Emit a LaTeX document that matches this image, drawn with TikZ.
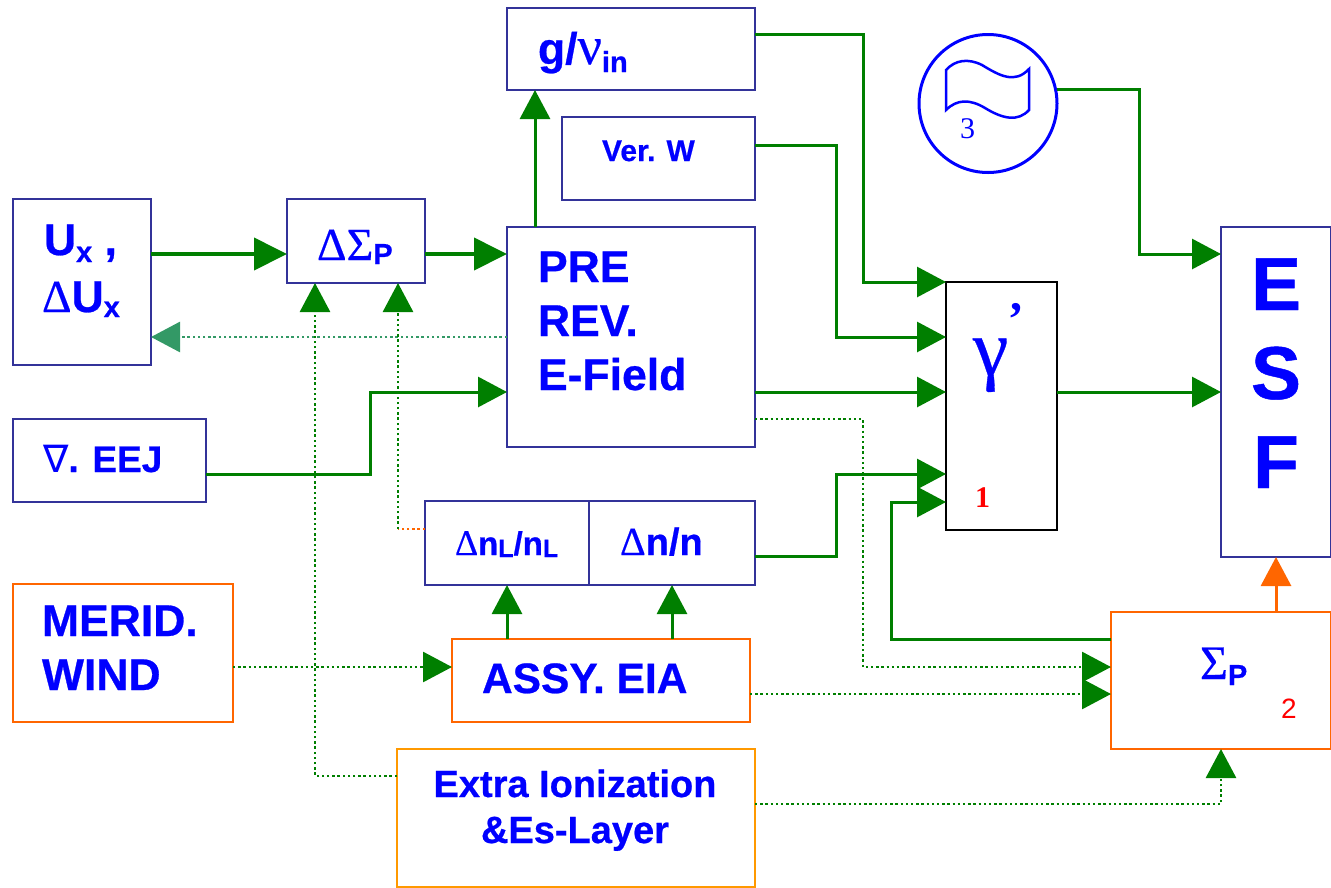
\documentclass[tikz,border=0pt]{standalone}
\usepackage{fontspec}
\setmainfont{Liberation Sans}[BoldFeatures={FakeBold=0.6}]
\newfontfamily\serifGreek{Liberation Serif}
\newfontfamily\heavyGreek{Liberation Serif}[FakeBold=0.4]
\newfontfamily\dejaGreek{DejaVu Sans}
\usetikzlibrary{arrows.meta}

\newcommand{\gk}[2][46]{{\heavyGreek\mdseries\fontsize{#1}{#1}\selectfont #2}}
\newcommand{\subTxt}[2]{\raisebox{-#1pt}{\fontsize{29}{29}\selectfont #2}}

\tikzset{
    blockBox/.style={draw=borderColour, line width=2.8pt, rectangle, inner sep=0pt, outer sep=0pt},
    orangeBox/.style={blockBox, draw=orangeColour},
    goldBox/.style={blockBox, draw=goldColour},
    gammaBox/.style={blockBox, draw=black},
    blockText/.style={anchor=base west, inner sep=0pt, outer sep=0pt, text=textColour, font=\bfseries\fontsize{44.5}{54}\selectfont, align=left},
    smallNum/.style={anchor=base west, inner sep=0pt, outer sep=0pt},
    flowBig/.style={draw=flowColour, line width=4pt, -{Triangle[length=33pt,width=32pt]}},
    flow/.style={draw=flowColour, line width=3pt, -{Triangle[length=29pt,width=30pt]}},
    dotFlow/.style={draw=flowColour, line width=2.8pt, dash pattern=on 2.4pt off 2.8pt, -{Triangle[length=29pt,width=30pt]}},
    dotPlain/.style={draw=flowColour, line width=2.8pt, dash pattern=on 2.4pt off 2.8pt}
}

\begin{document}
\begin{tikzpicture}[x=1pt, y=-1pt]
    \definecolor{borderColour}{HTML}{333399}
    \definecolor{orangeColour}{HTML}{FF6600}
    \definecolor{goldColour}{HTML}{FF9900}
    \definecolor{flowColour}{HTML}{007F00}
    \definecolor{backColour}{HTML}{339966}
    \definecolor{textColour}{HTML}{0000FF}

    \useasboundingbox (0,0) rectangle (1331,887);

    % Draw blocks
    \node[blockBox, minimum width=248, minimum height=82] (gvBox) at (631,49) {};
    \node[blockBox, minimum width=193, minimum height=83] (verBox) at (658.5,158.5) {};
    \node[blockBox, minimum width=248, minimum height=220] (preBox) at (631,337) {};
    \node[blockBox, minimum width=138, minimum height=166] (uxBox) at (82,282) {};
    \node[blockBox, minimum width=138, minimum height=84] (dsigBox) at (356,241) {};
    \node[blockBox, minimum width=193, minimum height=83] (eejBox) at (109.5,460.5) {};
    \node[blockBox, minimum width=164, minimum height=84] (nlBox) at (507,543) {};
    \node[blockBox, minimum width=166, minimum height=84] (nBox) at (672,543) {};
    \node[orangeBox, minimum width=220, minimum height=138] (windBox) at (123,653) {};
    \node[orangeBox, minimum width=298, minimum height=83] (eiaBox) at (601,680.5) {};
    \node[goldBox, minimum width=358, minimum height=138] (extraBox) at (576,818) {};
    \node[gammaBox, minimum width=111, minimum height=248] (gammaB) at (1001.5,406) {};
    \node[blockBox, minimum width=110, minimum height=330] (esfBox) at (1276,392) {};
    \node[orangeBox, minimum width=220, minimum height=137] (sigBox) at (1221,680.5) {};
    \node[circle, draw=textColour, line width=3pt, minimum size=138, inner sep=0pt, outer sep=0pt] (flagCirc) at (988,103.5) {};

    % Flag inside the circle
    \draw[textColour, line width=2.5pt] (946,70) .. controls (955,60) and (968,58) .. (982,65)
        .. controls (1000,76) and (1015,84) .. (1029,69) -- (1029,110)
        .. controls (1018,122) and (1003,119) .. (985,108)
        .. controls (970,99) and (957,99) .. (946,110) -- cycle;

    % Block texts
    \node[blockText] (gvText) at (538,64) {g/\gk[54]{ν}\subTxt{8}{in}};
    \node[blockText, font=\bfseries\fontsize{30}{36}\selectfont] (verText) at (602,161) {Ver. W};
    \node[blockText] (uxText) at (44,255) {U\subTxt{7}{x} ,};
    \node[blockText] (duxText) at (42,312) {\gk{Δ}U\subTxt{5}{x}};
    \node[blockText] (dsigText) at (317,260) {\gk{ΔΣ}\subTxt{4}{P}};
    \node[blockText] (preText) at (538,390) {PRE\\REV.\\E-Field};
    \node[blockText, font=\bfseries\fontsize{37}{42}\selectfont] (eejText) at (43,472) {{\dejaGreek\mdseries\fontsize{38}{38}\selectfont ∇}. EEJ};
    \node[blockText, font=\bfseries\fontsize{33}{40}\selectfont] (nlText) at (455,555) {\gk[36]{Δ}n\subTxt{2}{\fontsize{25}{25}\selectfont L}/n\subTxt{2}{\fontsize{25}{25}\selectfont L}};
    \node[blockText, font=\bfseries\fontsize{38}{42}\selectfont] (nText) at (620,555) {\gk[40]{Δ}n/n};
    \node[blockText] (windText) at (42,690) {MERID.\\WIND};
    \node[blockText, font=\bfseries\fontsize{42.5}{48}\selectfont] (eiaText) at (482,693) {ASSY. EIA};
    \node[blockText, anchor=base, align=center, font=\bfseries\fontsize{38}{46}\selectfont] (extraText) at (575,843) {Extra Ionization\\\&Es-Layer};
    \node[blockText, anchor=base, align=center, font=\bfseries\fontsize{75}{89}\selectfont] (esfText) at (1276,488) {E\\S\\F};
    \node[blockText] (sigText) at (1200,679) {\gk[48]{Σ}\subTxt{6}{P}};
    \node[blockText] (gammaText) at (973,375) {\gk[80]{γ}};
    \node[blockText] (primeText) at (1010,310) {{\serifGreek\bfseries\fontsize{48}{48}\selectfont ,}};

    % Numbers
    \node[smallNum, text=red, font=\serifGreek\bfseries\fontsize{30}{30}\selectfont] (numOne) at (975,507) {1};
    \node[smallNum, text=red, font=\fontsize{28}{28}\selectfont] (numTwo) at (1281,718) {2};
    \node[smallNum, text=textColour, font=\serifGreek\fontsize{30}{30}\selectfont] (numThree) at (960,138) {3};

    % Solid connectors
    \draw[flowBig] (uxBox.east |- 0,254) -- (dsigBox.west |- 0,254);
    \draw[flowBig] (dsigBox.east |- 0,254) -- (preBox.west |- 0,254);
    \draw[flow] (preBox.north -| 535,0) -- (gvBox.south -| 535,0);
    \draw[flow] (eejBox.east |- 0,474) -- (370,474) -- (370,392) -- (preBox.west |- 0,392);
    \draw[flow] (gvBox.east |- 0,34) -- (863,34) -- (863,282) -- (gammaB.west |- 0,282);
    \draw[flow] (verBox.east |- 0,145) -- (836,145) -- (836,337) -- (gammaB.west |- 0,337);
    \draw[flow] (preBox.east |- 0,392) -- (gammaB.west |- 0,392);
    \draw[flow] (nBox.east |- 0,556) -- (836,556) -- (836,474) -- (gammaB.west |- 0,474);
    \draw[flow] (sigBox.west |- 0,639) -- (891,639) -- (891,502) -- (gammaB.west |- 0,502);
    \draw[flow] (flagCirc.east |- 0,89) -- (1139,89) -- (1139,254) -- (esfBox.west |- 0,254);
    \draw[flow] (gammaB.east |- 0,392) -- (esfBox.west |- 0,392);
    \draw[flow] (eiaBox.north -| 507,0) -- (nlBox.south -| 507,0);
    \draw[flow] (eiaBox.north -| 672,0) -- (nBox.south -| 672,0);
    \draw[flow, draw=orangeColour] (sigBox.north -| 1276,0) -- (esfBox.south -| 1276,0);

    % Dotted connectors
    \draw[dotFlow, draw=backColour] (preBox.west |- 0,337) -- (uxBox.east |- 0,337);
    \draw[dotFlow] (extraBox.west |- 0,776) -- (315,776) -- (dsigBox.south -| 315,0);
    \coordinate (nlTurn) at (398,529);
    \draw[dotPlain, draw=orangeColour] (nlBox.west |- nlTurn) -- (nlTurn);
    \draw[dotFlow] (nlTurn) -- (dsigBox.south -| nlTurn);
    \draw[dotFlow] (preBox.east |- 0,419) -- (863,419) -- (863,667) -- (sigBox.west |- 0,667);
    \draw[dotFlow] (eiaBox.east |- 0,694) -- (sigBox.west |- 0,694);
    \draw[dotFlow] (extraBox.east |- 0,804) -- (1221,804) -- (sigBox.south -| 1221,0);
    \draw[dotFlow] (windBox.east |- 0,667) -- (eiaBox.west |- 0,667);

\end{tikzpicture}
\end{document}
